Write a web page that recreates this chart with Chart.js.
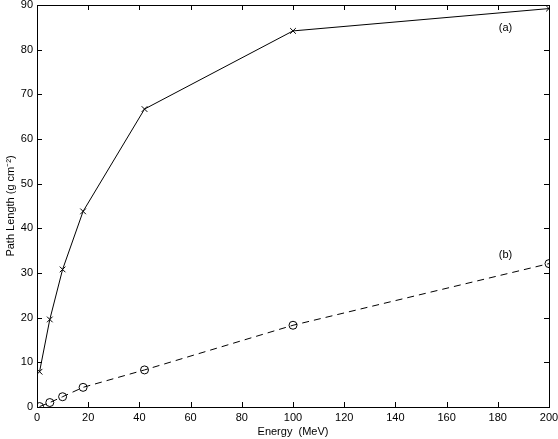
<!DOCTYPE html>
<html>
<head>
<meta charset="utf-8">
<script src="https://cdn.jsdelivr.net/npm/chart.js@4/dist/chart.umd.min.js"></script>
<style>
  html, body { margin: 0; padding: 0; background: #fff; }
  #wrap { width: 558px; height: 439px; }
</style>
</head>
<body>
<div id="wrap"><canvas id="myChart"></canvas></div>
<script>
const energy = [1, 5, 10, 18, 42, 100, 200];
const seriesA = [7.9, 19.6, 30.8, 43.8, 66.7, 84.2, 89.2];
const seriesB = [0.1, 1.0, 2.3, 4.4, 8.3, 18.3, 32.1];
const xTicks = [0, 20, 40, 60, 80, 100, 120, 140, 160, 180, 200];
const yTicks = [0, 10, 20, 30, 40, 50, 60, 70, 80, 90];
const curveLabels = [
    { text: '(a)', x: 183, y: 84.8 },
    { text: '(b)', x: 183, y: 34.0 }
];

const font = { family: 'Liberation Sans, Arial, sans-serif', size: 11 };

// ticks pointing inwards on all four sides, plus the box
const boxTicks = {
    id: 'boxTicks',
    afterDatasetsDraw(chart) {
        const { ctx, chartArea: a, scales } = chart;
        ctx.save();
        ctx.strokeStyle = '#000';
        ctx.lineWidth = 1;
        ctx.beginPath();
        xTicks.forEach(v => {
            const px = Math.round(scales.x.getPixelForValue(v)) + 0.5;
            ctx.moveTo(px, a.bottom); ctx.lineTo(px, a.bottom - 5);
            ctx.moveTo(px, a.top); ctx.lineTo(px, a.top + 5);
        });
        yTicks.forEach(v => {
            const py = Math.round(scales.y.getPixelForValue(v)) + 0.5;
            ctx.moveTo(a.left, py); ctx.lineTo(a.left + 5, py);
            ctx.moveTo(a.right, py); ctx.lineTo(a.right - 5, py);
        });
        ctx.stroke();
        ctx.strokeRect(Math.round(a.left) + 0.5, Math.round(a.top) + 0.5,
            Math.round(a.right - a.left), Math.round(a.bottom - a.top));
        ctx.font = '11px ' + font.family;
        ctx.fillStyle = '#000';
        ctx.textAlign = 'center';
        ctx.textBaseline = 'middle';
        curveLabels.forEach(l => {
            ctx.fillText(l.text, scales.x.getPixelForValue(l.x), scales.y.getPixelForValue(l.y));
        });
        ctx.restore();
    }
};

new Chart(document.getElementById('myChart'), {
    type: 'line',
    data: {
        datasets: [{
            label: '(a)',
            data: energy.map((e, i) => ({ x: e, y: seriesA[i] })),
            borderColor: '#000',
            borderWidth: 1,
            pointStyle: 'crossRot',
            pointRadius: 4,
            pointBorderColor: '#000',
            pointBorderWidth: 1,
            tension: 0
        }, {
            label: '(b)',
            data: energy.map((e, i) => ({ x: e, y: seriesB[i] })),
            borderColor: '#000',
            borderWidth: 1,
            borderDash: [7, 5],
            pointStyle: 'circle',
            pointRadius: 4,
            pointBackgroundColor: 'rgba(0,0,0,0)',
            pointBorderColor: '#000',
            pointBorderWidth: 1,
            tension: 0
        }]
    },
    options: {
        responsive: true,
        maintainAspectRatio: false,
        animation: false,
        layout: { padding: 0 },
        plugins: { legend: { display: false }, tooltip: { enabled: false } },
        scales: {
            x: {
                type: 'linear',
                min: 0, max: 200,
                afterBuildTicks(s) { s.ticks = xTicks.map(v => ({ value: v })); },
                afterFit(s) { s.height = 32; s.paddingRight = 9; s.paddingLeft = 0; },
                grid: { display: false, drawTicks: false },
                border: { display: false },
                ticks: { color: '#000', font: font, padding: 4, maxRotation: 0 },
                title: { display: true, text: 'Energy  (MeV)', color: '#000', font: font, padding: { top: 0, bottom: 0 } }
            },
            y: {
                min: 0, max: 90,
                afterBuildTicks(s) { s.ticks = yTicks.map(v => ({ value: v })); },
                afterFit(s) { s.width = 37; s.paddingTop = 4; s.paddingBottom = 0; },
                grid: { display: false, drawTicks: false },
                border: { display: false },
                ticks: { color: '#000', font: font, padding: 4 },
                title: { display: true, text: 'Path Length (g cm⁻²)', color: '#000', font: font, padding: { top: 4, bottom: 2 } }
            }
        }
    },
    plugins: [boxTicks]
});
</script>
</body>
</html>
